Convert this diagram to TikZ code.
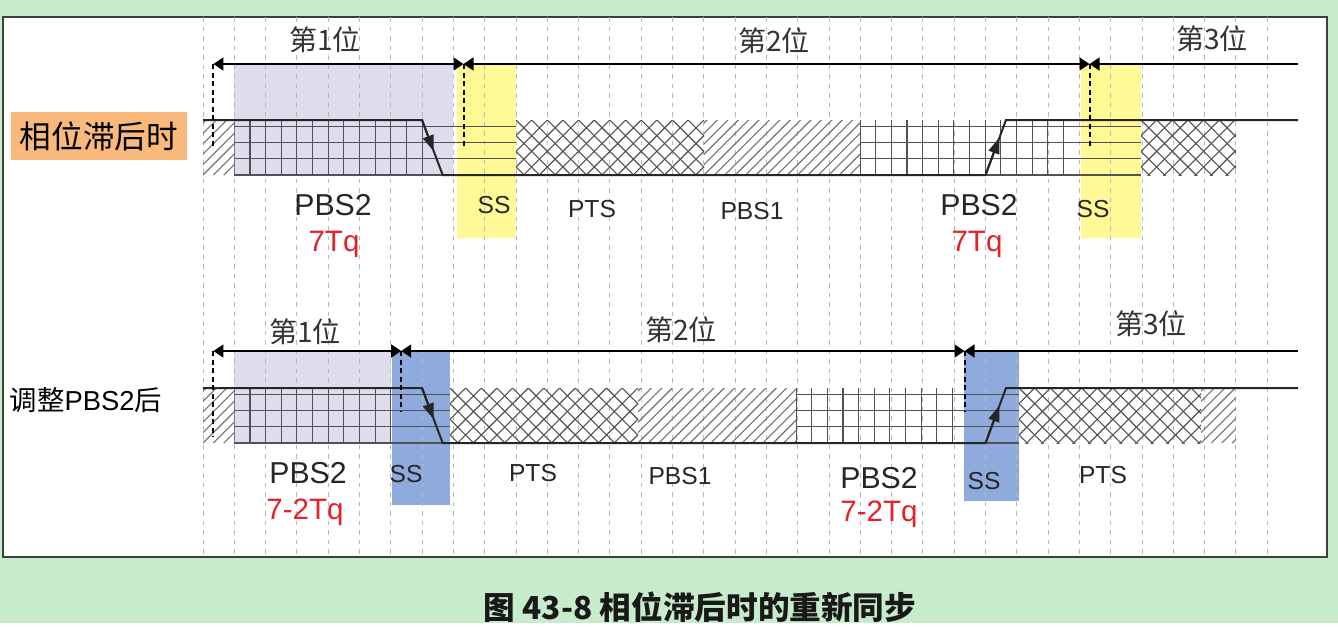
\documentclass[tikz,border=0pt]{standalone}
\usepackage{fontspec}
\setmainfont{Liberation Sans}
\newfontfamily\cjk{Noto Sans CJK SC}
\usetikzlibrary{arrows.meta,calc}

\definecolor{bggreen}{RGB}{199,236,204}
\definecolor{pbslav}{RGB}{223,221,237}
\definecolor{ssyellow}{RGB}{255,250,150}
\definecolor{ssblue}{RGB}{143,170,220}
\definecolor{tqred}{RGB}{228,32,40}
\definecolor{lagorange}{RGB}{249,185,125}
\definecolor{gridgray}{RGB}{185,185,185}

\begin{document}
\begin{tikzpicture}[x=0.1mm, y=-0.1mm,
    guide/.style={draw=gridgray, line width=0.1mm, dash pattern=on 0.45mm off 0.5mm},
    cellline/.style={draw=black!68, line width=0.11mm},
    signal/.style={draw=black!85, line width=0.2mm},
    edgearrow/.style={draw=black!85, line width=0.2mm, -{Triangle[length=1.6mm,width=1.1mm]}},
    bitspan/.style={line width=0.16mm, {Triangle[length=1mm,width=1.3mm]}-{Triangle[length=1mm,width=1.3mm]}},
    bitopen/.style={line width=0.16mm, {Triangle[length=1mm,width=1.3mm]}-},
    bitmark/.style={line width=0.2mm, dash pattern=on 0.5mm off 0.35mm},
    bitlabel/.style={font=\cjk\fontsize{8}{9}\selectfont, text=black!80},
    pbslabel/.style={font=\fontsize{8.6}{10}\selectfont, anchor=base, text=black!85},
    tqlabel/.style={font=\fontsize{8.4}{10}\selectfont, anchor=base, text=tqred},
    seglabel/.style={font=\fontsize{7}{8}\selectfont, anchor=base, text=black!85}
]

    % Background and frame
    \useasboundingbox (0,0) rectangle (1338,639);
    \fill[white] (0,0) rectangle (1338,639);
    \fill[bggreen] (0,0) rectangle (1338,623);
    \draw[line width=0.2mm, draw=black!75, fill=white] (3,17) rectangle (1327,557);

    % Levels of the two timing rows
    \def\hiA{120} \def\loA{175} \def\arA{64}
    \def\hiB{388} \def\loB{443} \def\arB{351}

    % Pattern helpers: left, right, top, bottom
    \def\gridcells#1#2#3#4{
        \begin{scope}
            \clip (#1,#3) rectangle (#2,#4);
            \foreach \n in {0,...,16}
                \draw[cellline] ({#1+15.65*\n},#3) -- ({#1+15.65*\n},#4);
        \end{scope}}
    \def\rowcells#1#2#3{
        \foreach \j in {0,...,3}
            \draw[cellline] (#1,{#3-16.3*\j}) -- (#2,{#3-16.3*\j});}
    \def\crosscells#1#2#3#4{
        \begin{scope}
            \clip (#1,#3) rectangle (#2,#4);
            \foreach \n in {-4,...,17} {
                \draw[cellline] ({#1+15.65*\n},#3) -- ++(60,60);
                \draw[cellline] ({#1+15.65*\n},#3) -- ++(-60,60);
            }
        \end{scope}}
    \def\hatchcells#1#2#3#4{
        \begin{scope}
            \clip (#1,#3) rectangle (#2,#4);
            \foreach \n in {-6,...,18}
                \draw[cellline, draw=black!55] ({#1+10.4*\n},#4) -- ++(60,-60);
        \end{scope}}

    % Shaded areas
    \fill[pbslav] (234.3,\arA) rectangle (453.4,\loA);
    \fill[ssyellow] (456.7,\arA) rectangle (516,238);
    \fill[ssyellow] (1081,\arA) rectangle (1141,238);
    \fill[pbslav] (234.3,\arB) rectangle (391,\loB);
    \fill[ssblue] (392,\arB) rectangle (450,505);
    \fill[ssblue] (964,\arB) rectangle (1019,501);

    % Vertical guides
    \foreach \k in {0,...,34}
        \draw[guide] ({203+31.3*\k},17) -- ({203+31.3*\k},557);

    % Top row segments
    \hatchcells{203}{234.3}{\hiA}{\loA}
    \gridcells{234.3}{430}{\hiA}{\loA}
    \rowcells{234.3}{516}{\loA}
    \crosscells{516}{704}{\hiA}{\loA}
    \hatchcells{704}{860}{\hiA}{\loA}
    \gridcells{860}{1075}{\hiA}{\loA}
    \rowcells{860}{1141}{\loA}
    \crosscells{1141}{1236}{\hiA}{\loA}

    % Bottom row segments
    \hatchcells{203}{234.3}{\hiB}{\loB}
    \gridcells{234.3}{392}{\hiB}{\loB}
    \rowcells{234.3}{450}{\loB}
    \crosscells{450}{638}{\hiB}{\loB}
    \hatchcells{638}{796}{\hiB}{\loB}
    \gridcells{796}{964}{\hiB}{\loB}
    \rowcells{796}{1019}{\loB}
    \crosscells{1019}{1201}{\hiB}{\loB}
    \hatchcells{1201}{1236}{\hiB}{\loB}

    % Signal, top row
    \coordinate (fallA) at (422,\hiA);
    \coordinate (lowA) at (442.7,\loA);
    \coordinate (riseA) at (985.5,\loA);
    \coordinate (highA) at (1006,\hiA);
    \draw[signal] (203,\hiA) -- (fallA) -- (lowA) -- (riseA) -- (highA) -- (1298,\hiA);
    \draw[edgearrow] (fallA) -- ($(fallA)!0.57!(lowA)$);
    \draw[edgearrow] (riseA) -- ($(riseA)!0.68!(highA)$);

    % Signal, bottom row
    \coordinate (fallB) at (422,\hiB);
    \coordinate (lowB) at (442.7,\loB);
    \coordinate (riseB) at (985.5,\loB);
    \coordinate (highB) at (1006,\hiB);
    \draw[signal] (203,\hiB) -- (fallB) -- (lowB) -- (riseB) -- (highB) -- (1298,\hiB);
    \draw[edgearrow] (fallB) -- ($(fallB)!0.57!(lowB)$);
    \draw[edgearrow] (riseB) -- ($(riseB)!0.68!(highB)$);

    % Bit spans
    \coordinate (spanA0) at (213.4,\arA);
    \coordinate (spanA1) at (463.5,\arA);
    \coordinate (spanA2) at (1089.5,\arA);
    \coordinate (spanA3) at (1298,\arA);
    \draw[bitspan] (spanA0) -- (spanA1);
    \draw[bitspan] (spanA1) -- (spanA2);
    \draw[bitopen] (spanA2) -- (spanA3);
    \draw[bitmark] (spanA0) -- ++(0,82);
    \draw[bitmark] (spanA1) -- ++(0,82);
    \draw[bitmark] (spanA2) -- ++(0,82);

    \coordinate (spanB0) at (213.4,\arB);
    \coordinate (spanB1) at (401.2,\arB);
    \coordinate (spanB2) at (964.5,\arB);
    \coordinate (spanB3) at (1298,\arB);
    \draw[bitspan] (spanB0) -- (spanB1);
    \draw[bitspan] (spanB1) -- (spanB2);
    \draw[bitopen] (spanB2) -- (spanB3);
    \draw[bitmark] (spanB0) -- ++(0,86);
    \draw[bitmark] (spanB1) -- ++(0,61);
    \draw[bitmark] (spanB2) -- ++(0,61);

    % Labels, top row
    \node[bitlabel] (bitA1) at (325,40) {第1位};
    \node[bitlabel] (bitA2) at (774,41) {第2位};
    \node[bitlabel] (bitA3) at (1212,39) {第3位};
    \node[fill=lagorange, font=\cjk\fontsize{9}{10}\selectfont, minimum width=17.6mm, minimum height=4.8mm, inner sep=0] (lagA) at (99,136) {相位滞后时};
    \node[pbslabel] (pbsA1) at (333,215) {PBS2};
    \node[tqlabel] (tqA1) at (334,251) {7Tq};
    \node[seglabel] (ssA1) at (494,213) {SS};
    \node[seglabel] (ptsA) at (592,217) {PTS};
    \node[seglabel] (pbsA2) at (752,219) {PBS1};
    \node[pbslabel] (pbsA3) at (979,215) {PBS2};
    \node[tqlabel] (tqA3) at (977,251) {7Tq};
    \node[seglabel] (ssA2) at (1093,217) {SS};

    % Labels, bottom row
    \node[bitlabel] (bitB1) at (305,332) {第1位};
    \node[bitlabel] (bitB2) at (681,330) {第2位};
    \node[bitlabel] (bitB3) at (1151,324) {第3位};
    \node[anchor=west, inner sep=0, font=\fontsize{7.8}{9}\selectfont] (adjB) at (9,400) {{\cjk 调整}PBS2{\cjk 后}};
    \node[pbslabel] (pbsB1) at (308,483) {PBS2};
    \node[tqlabel] (tqB1) at (305,519) {7-2Tq};
    \node[seglabel] (ssB1) at (406,482) {SS};
    \node[seglabel] (ptsB1) at (533,481) {PTS};
    \node[seglabel] (pbsB2) at (680,484) {PBS1};
    \node[pbslabel] (pbsB3) at (879,488) {PBS2};
    \node[tqlabel] (tqB3) at (879,521) {7-2Tq};
    \node[seglabel] (ssB2) at (984,489) {SS};
    \node[seglabel] (ptsB2) at (1103,483) {PTS};

    % Caption
    \node[font=\cjk\bfseries\fontsize{9}{11}\selectfont, text=black!90] (caption) at (700,607) {图 43-8 相位滞后时的重新同步};

\end{tikzpicture}
\end{document}
